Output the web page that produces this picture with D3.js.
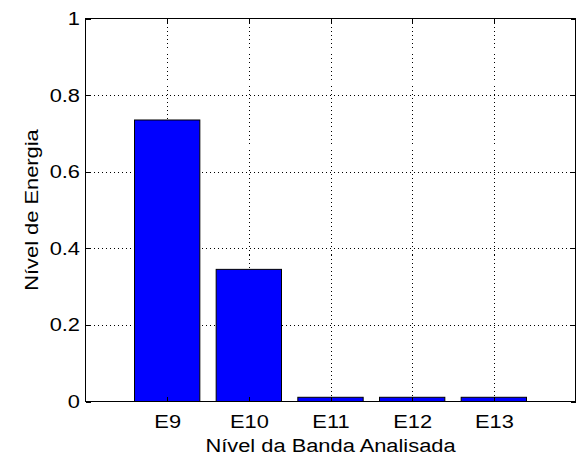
<!DOCTYPE html>
<html>
<head>
<meta charset="utf-8">
<script src="https://cdn.jsdelivr.net/npm/d3@7"></script>
<style>
  html, body { margin: 0; padding: 0; background: #fff; }
  svg { display: block; }
  text { font-family: "Liberation Sans", Arial, Helvetica, sans-serif; fill: #000; }
</style>
</head>
<body>
<svg id="chart" width="580" height="456"></svg>
<script>
// Energy level per analysed band
const bands = ["E9", "E10", "E11", "E12", "E13"];
const energy = [0.735, 0.345, 0.011, 0.011, 0.011];
const yTicks = [0, 0.2, 0.4, 0.6, 0.8, 1];
const yTickLabels = ["0", "0.2", "0.4", "0.6", "0.8", "1"];
const xTitle = "Nível da Banda Analisada";
const yTitle = "Nível de Energia";

const W = 580, H = 456;
const plot = { left: 85.5, right: 575.5, top: 18.5, bottom: 401.5 };
const FONT = 19, SX = 1.15;   // label size and horizontal widening

const svg = d3.select("#chart");

// bars sit at positions 1..n on a 0..n+1 axis
const x = d3.scaleLinear().domain([0, bands.length + 1]).range([plot.left, plot.right]);
const y = d3.scaleLinear().domain([0, 1]).range([plot.bottom, plot.top]);
const xPos = bands.map((_, i) => i + 1);
const barW = 0.8;

// dotted grid
const grid = svg.append("g").attr("stroke", "#000").attr("stroke-width", 1)
  .attr("stroke-dasharray", "1,3").attr("shape-rendering", "crispEdges");
grid.selectAll(".gx").data(xPos).join("line")
  .attr("x1", d => Math.round(x(d)) + 0.5).attr("x2", d => Math.round(x(d)) + 0.5)
  .attr("y1", plot.top).attr("y2", plot.bottom);
grid.selectAll(".gy").data(yTicks.slice(1, -1)).join("line")
  .attr("x1", plot.left).attr("x2", plot.right)
  .attr("y1", d => Math.round(y(d)) + 0.5).attr("y2", d => Math.round(y(d)) + 0.5);

// bars
svg.append("g").selectAll("rect").data(energy).join("rect")
  .attr("x", (d, i) => x(xPos[i] - barW / 2))
  .attr("width", x(barW) - x(0))
  .attr("y", d => y(d))
  .attr("height", d => y(0) - y(d))
  .attr("fill", "#0000ff")
  .attr("stroke", "#000")
  .attr("stroke-width", 1);

// axes with inward ticks on all four sides
function styleAxis(g) {
  g.selectAll("path, line").attr("stroke", "#000").attr("shape-rendering", "crispEdges");
  g.selectAll("text").attr("font-size", FONT).attr("font-family", null);
}
const TL = 5;
const xAxis = d3.axisBottom(x).tickValues(xPos).tickFormat((d, i) => bands[i])
  .tickSizeInner(-TL).tickSizeOuter(0).tickPadding(TL + 8);
const gx = svg.append("g").attr("transform", `translate(0,${plot.bottom})`).call(xAxis).call(styleAxis);
gx.select(".domain").remove();
gx.selectAll("text").attr("transform", `scale(${SX},1)`)
  .attr("x", 0);

const yAxis = d3.axisLeft(y).tickValues(yTicks).tickFormat((d, i) => yTickLabels[i])
  .tickSizeInner(-TL).tickSizeOuter(0).tickPadding(TL + 6);
const gy = svg.append("g").attr("transform", `translate(${plot.left},0)`).call(yAxis).call(styleAxis);
gy.select(".domain").remove();
gy.selectAll("text").attr("x", -5.5 / SX).attr("transform", `scale(${SX},1)`);

const xTop = d3.axisTop(x).tickValues(xPos).tickFormat("").tickSizeInner(-TL).tickSizeOuter(0);
const gt = svg.append("g").attr("transform", `translate(0,${plot.top})`).call(xTop).call(styleAxis);
gt.select(".domain").remove();
const yRight = d3.axisRight(y).tickValues(yTicks).tickFormat("").tickSizeInner(-TL).tickSizeOuter(0);
const gr = svg.append("g").attr("transform", `translate(${plot.right},0)`).call(yRight).call(styleAxis);
gr.select(".domain").remove();

// box
svg.append("rect")
  .attr("x", plot.left).attr("y", plot.top)
  .attr("width", plot.right - plot.left).attr("height", plot.bottom - plot.top)
  .attr("fill", "none").attr("stroke", "#000").attr("shape-rendering", "crispEdges");

// titles
const cx = (plot.left + plot.right) / 2;
svg.append("text").attr("font-size", FONT).attr("text-anchor", "middle")
  .attr("transform", `translate(${cx},452) scale(${SX},1)`)
  .text(xTitle);
svg.append("text").attr("font-size", FONT).attr("text-anchor", "middle")
  .attr("transform", `translate(38,${(plot.top + plot.bottom) / 2}) rotate(-90) scale(${SX},1)`)
  .text(yTitle);
</script>
</body>
</html>
